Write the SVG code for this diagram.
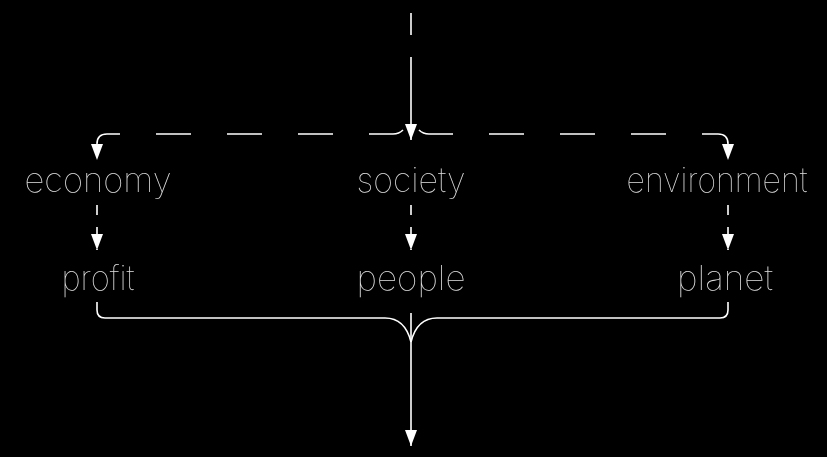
<svg xmlns="http://www.w3.org/2000/svg" width="827" height="457" viewBox="0 0 827 457">
<defs>
<style>
.lbl{font-family:Inter,Lato,"Open Sans",Roboto,"Liberation Sans",sans-serif;font-weight:100;font-size:34px;fill:#e0e0e0;text-anchor:middle}
.n{filter:grayscale(100%)}
.e{fill:none;stroke:#fff;stroke-width:1.6}
.d{stroke-dasharray:35 36}
.s{stroke-dasharray:10 12}
</style>
<marker id="ah" viewBox="0 0 16 12" refX="16" refY="6" markerWidth="16" markerHeight="12" markerUnits="userSpaceOnUse" orient="auto">
<path d="M0,0 L16,6 L0,12 Z" fill="#fff"/>
</marker>
</defs>
<rect width="827" height="457" fill="#000"/>
<g id="connectors">
<path class="e" d="M411,13 L411,35"/>
<path class="e" d="M411,57 L411,140" marker-end="url(#ah)"/>
<path class="e d" d="M403,130 Q399,134 393,134 L107,134 Q97,134 97,144 L97,160" marker-end="url(#ah)"/>
<path class="e d" d="M419,130 Q423,134 429,134 L718,134 Q728,134 728,144 L728,160" marker-end="url(#ah)"/>
<path class="e s" d="M97,205 L97,250" marker-end="url(#ah)"/>
<path class="e s" d="M411,205 L411,250" marker-end="url(#ah)"/>
<path class="e s" d="M728,205 L728,250" marker-end="url(#ah)"/>
<path class="e" d="M97,302 L97,310 Q97,318 105,318 L385,318 Q405,318 411,342"/>
<path class="e" d="M728,302 L728,310 Q728,318 720,318 L437,318 Q417,318 411,342"/>
<path class="e" d="M411,313 L411,446" marker-end="url(#ah)"/>
</g>
<g id="economy" class="n"><text class="lbl" x="98" y="192" textLength="147" lengthAdjust="spacingAndGlyphs">economy</text></g>
<g id="society" class="n"><text class="lbl" x="411" y="192" textLength="109" lengthAdjust="spacingAndGlyphs">society</text></g>
<g id="environment" class="n"><text class="lbl" x="717" y="192" textLength="181" lengthAdjust="spacingAndGlyphs">environment</text></g>
<g id="profit" class="n"><text class="lbl" x="98" y="290" textLength="73" lengthAdjust="spacingAndGlyphs">profit</text></g>
<g id="people" class="n"><text class="lbl" x="411" y="290" textLength="109" lengthAdjust="spacingAndGlyphs">people</text></g>
<g id="planet" class="n"><text class="lbl" x="725" y="290" textLength="96" lengthAdjust="spacingAndGlyphs">planet</text></g>
</svg>
